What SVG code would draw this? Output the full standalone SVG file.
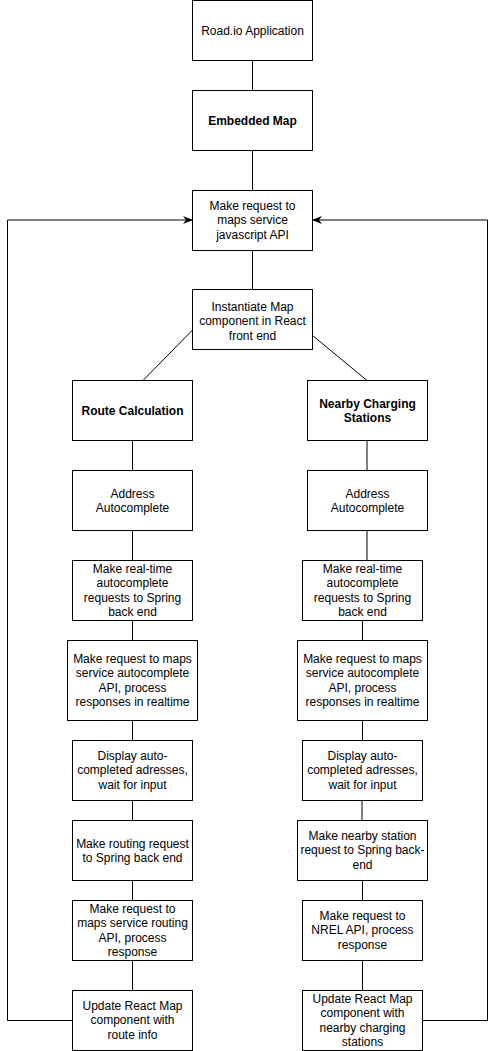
<svg xmlns="http://www.w3.org/2000/svg" width="496" height="1051" viewBox="0 0 496 1051">
<style>
.box{fill:#fff;stroke:#000;stroke-width:1}
.t{font-family:"Liberation Sans",Arial,Helvetica,sans-serif;font-size:12px;fill:#000;text-anchor:middle}
.b{font-weight:bold}
.c{fill:none;stroke:#000;stroke-width:1}
</style>
<defs>
<marker id="arr" markerUnits="userSpaceOnUse" viewBox="0 0 10 8" refX="9.5" refY="4" markerWidth="10" markerHeight="8" orient="auto">
<path d="M0,0 L10,4 L0,8 L3,4 z" fill="#000"/>
</marker>
</defs>
<rect width="496" height="1051" fill="#fff"/>
<g id="connectors">
<path class="c" d="M252.5,60.5 V90.5"/>
<path class="c" d="M252.5,150.5 V190.5"/>
<path class="c" d="M252.5,250.5 V290"/>
<path class="c" d="M192.5,330 L143,380.5"/>
<path class="c" d="M312.5,335.5 L367,380.5"/>
<path class="c" d="M132.5,440.5 V470.5"/>
<path class="c" d="M367,440.5 V470.5"/>
<path class="c" d="M132.5,530.5 V560.5"/>
<path class="c" d="M367,530.5 V560.5"/>
<path class="c" d="M132.5,620.5 V640.5"/>
<path class="c" d="M362.5,620.5 V640.5"/>
<path class="c" d="M132.5,720.5 V740.5"/>
<path class="c" d="M362.5,720.5 V740.5"/>
<path class="c" d="M132.5,800.5 V820.5"/>
<path class="c" d="M362,800.5 V820.5"/>
<path class="c" d="M132.5,880.5 V900.5"/>
<path class="c" d="M362.5,880.5 V900.5"/>
<path class="c" d="M132.5,960.5 V990.5"/>
<path class="c" d="M362.5,960.5 V990.5"/>
<path class="c" d="M72.5,1020.5 H7.5 V220 H192.5" marker-end="url(#arr)"/>
<path class="c" d="M422.5,1020.5 H487.5 V220 H312.5" marker-end="url(#arr)"/>
</g>
<g id="n1"><rect class="box" x="192.5" y="0.5" width="120" height="60"/><text class="t" x="252.5" y="34.5">Road.io Application</text></g>
<g id="n2"><rect class="box" x="192.5" y="90.5" width="120" height="60"/><text class="t b" x="252.5" y="124.5">Embedded Map</text></g>
<g id="n3"><rect class="box" x="192.5" y="190.5" width="120" height="60"/><text class="t" x="252.5" y="210"><tspan x="252.5">Make request to</tspan><tspan x="252.5" dy="14.4">maps service</tspan><tspan x="252.5" dy="14.4">javascript API</tspan></text></g>
<g id="n4"><rect class="box" x="192.5" y="289.5" width="120" height="60"/><text class="t" x="252.5" y="311"><tspan x="252.5">Instantiate Map</tspan><tspan x="252.5" dy="14.4">component in React</tspan><tspan x="252.5" dy="14.4">front end</tspan></text></g>
<g id="n5"><rect class="box" x="72.5" y="380.5" width="120" height="60"/><text class="t b" x="132.5" y="414.5">Route Calculation</text></g>
<g id="n6"><rect class="box" x="307.5" y="380.5" width="120" height="60"/><text class="t b" x="367.5" y="407.5"><tspan x="367.5">Nearby Charging</tspan><tspan x="367.5" dy="14.4">Stations</tspan></text></g>
<g id="n7"><rect class="box" x="72.5" y="470.5" width="120" height="60"/><text class="t" x="132.5" y="497.5"><tspan x="132.5">Address</tspan><tspan x="132.5" dy="14.4">Autocomplete</tspan></text></g>
<g id="n8"><rect class="box" x="307.5" y="470.5" width="120" height="60"/><text class="t" x="367.5" y="497.5"><tspan x="367.5">Address</tspan><tspan x="367.5" dy="14.4">Autocomplete</tspan></text></g>
<g id="n9"><rect class="box" x="72.5" y="560.5" width="120" height="60"/><text class="t" x="132.5" y="572.9"><tspan x="132.5">Make real-time</tspan><tspan x="132.5" dy="14.4">autocomplete</tspan><tspan x="132.5" dy="14.4">requests to Spring</tspan><tspan x="132.5" dy="14.4">back end</tspan></text></g>
<g id="n10"><rect class="box" x="302.5" y="560.5" width="120" height="60"/><text class="t" x="362.5" y="572.9"><tspan x="362.5">Make real-time</tspan><tspan x="362.5" dy="14.4">autocomplete</tspan><tspan x="362.5" dy="14.4">requests to Spring</tspan><tspan x="362.5" dy="14.4">back end</tspan></text></g>
<g id="n11"><rect class="box" x="67.5" y="640.5" width="130" height="80"/><text class="t" x="132.5" y="662.9"><tspan x="132.5">Make request to maps</tspan><tspan x="132.5" dy="14.4">service autocomplete</tspan><tspan x="132.5" dy="14.4">API, process</tspan><tspan x="132.5" dy="14.4">responses in realtime</tspan></text></g>
<g id="n12"><rect class="box" x="297.5" y="640.5" width="130" height="80"/><text class="t" x="362.5" y="662.9"><tspan x="362.5">Make request to maps</tspan><tspan x="362.5" dy="14.4">service autocomplete</tspan><tspan x="362.5" dy="14.4">API, process</tspan><tspan x="362.5" dy="14.4">responses in realtime</tspan></text></g>
<g id="n13"><rect class="box" x="72.5" y="740.5" width="120" height="60"/><text class="t" x="132.5" y="760"><tspan x="132.5">Display auto-</tspan><tspan x="132.5" dy="14.4">completed adresses,</tspan><tspan x="132.5" dy="14.4">wait for input</tspan></text></g>
<g id="n14"><rect class="box" x="302.5" y="740.5" width="120" height="60"/><text class="t" x="362.5" y="760"><tspan x="362.5">Display auto-</tspan><tspan x="362.5" dy="14.4">completed adresses,</tspan><tspan x="362.5" dy="14.4">wait for input</tspan></text></g>
<g id="n15"><rect class="box" x="72.5" y="820.5" width="120" height="60"/><text class="t" x="132.5" y="847.5"><tspan x="132.5">Make routing request</tspan><tspan x="132.5" dy="14.4">to Spring back end</tspan></text></g>
<g id="n16"><rect class="box" x="297.5" y="820.5" width="130" height="60"/><text class="t" x="362.5" y="840"><tspan x="362.5">Make nearby station</tspan><tspan x="362.5" dy="14.4">request to Spring back-</tspan><tspan x="362.5" dy="14.4">end</tspan></text></g>
<g id="n17"><rect class="box" x="72.5" y="900.5" width="120" height="60"/><text class="t" x="132.5" y="912.9"><tspan x="132.5">Make request to</tspan><tspan x="132.5" dy="14.4">maps service routing</tspan><tspan x="132.5" dy="14.4">API, process</tspan><tspan x="132.5" dy="14.4">response</tspan></text></g>
<g id="n18"><rect class="box" x="302.5" y="900.5" width="120" height="60"/><text class="t" x="362.5" y="920"><tspan x="362.5">Make request to</tspan><tspan x="362.5" dy="14.4">NREL API, process</tspan><tspan x="362.5" dy="14.4">response</tspan></text></g>
<g id="n19"><rect class="box" x="72.5" y="990.5" width="120" height="60"/><text class="t" x="132.5" y="1010"><tspan x="132.5">Update React Map</tspan><tspan x="132.5" dy="14.4">component with</tspan><tspan x="132.5" dy="14.4">route info</tspan></text></g>
<g id="n20"><rect class="box" x="302.5" y="990.5" width="120" height="60"/><text class="t" x="362.5" y="1002.9"><tspan x="362.5">Update React Map</tspan><tspan x="362.5" dy="14.4">component with</tspan><tspan x="362.5" dy="14.4">nearby charging</tspan><tspan x="362.5" dy="14.4">stations</tspan></text></g>
</svg>
